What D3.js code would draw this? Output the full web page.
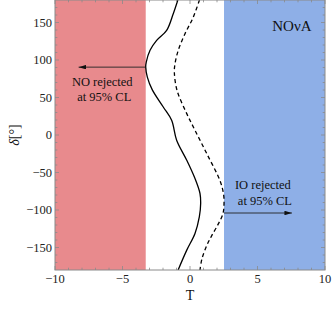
<!DOCTYPE html>
<html><head><meta charset="utf-8">
<script src="https://cdn.jsdelivr.net/npm/d3@7"></script>
<style>body{margin:0;background:#fff}svg{display:block}</style>
</head><body><svg id="c" width="332" height="309" font-family="'Liberation Serif','DejaVu Serif','Times New Roman',serif"></svg>
<script>
// Data
const xTicks = [-10, -5, 0, 5, 10];
const yTicks = [-150, -100, -50, 0, 50, 100, 150];
const deltaSolid = [180,161.7,139.4,126.1,112.9,97.2,90.5,77.2,60.5,37.3,19.6,-7,-33.7,-58.1,-78,-91.3,-109.2,-131.3,-153.5,-180];
const tSolid     = [-0.9,-1.24,-1.73,-2.47,-2.96,-3.24,-3.28,-3.16,-2.8,-1.98,-1.36,-0.99,-0.24,0.37,0.74,0.79,0.69,0.37,-0.24,-0.88];
const deltaDashed = [180,157,135,113,95,84,59.5,28.5,6.3,-24.8,-60.8,-78.2,-91.5,-104.9,-118.2,-134.2,-147.5,-164.8,-180];
const tDashed     = [0.7,0.24,-0.37,-0.87,-1.11,-1.16,-0.96,-0.24,0.37,1.24,2.22,2.48,2.52,2.44,2.11,1.61,1.24,0.89,0.74];
const bands = [{name:"NO", from:-10, to:-3.28, color:"#e88a8d"},{name:"IO", from:2.52, to:10, color:"#8eafe7"}];
const arrows = [{t0:-3.28, t1:-8.25, delta:90.5, lines:["NO rejected","at 95% CL"]},{t0:2.52, t1:7.55, delta:-104, lines:["IO rejected","at 95% CL"]}];
const experiment = "NOνA";

const W=332,H=309, L=55, R=325, T=0, B=270;
const svg = d3.select("#c");
const x = d3.scaleLinear().domain([-10,10]).range([L,R]);
const y = d3.scaleLinear().domain([-180,180]).range([B,T]);
const fmt = v => v<0 ? "\u2212"+Math.abs(v) : ""+v;

svg.append("defs").append("clipPath").attr("id","clip").append("rect").attr("x",L).attr("y",T).attr("width",R-L).attr("height",B-T);
svg.append("defs").append("marker").attr("id","ah").attr("viewBox","0 0 10 6").attr("refX",10).attr("refY",3)
  .attr("markerWidth",8).attr("markerHeight",4.5).attr("markerUnits","userSpaceOnUse").attr("orient","auto")
  .append("path").attr("d","M0,0L10,3L0,6Z").attr("fill","#111");

const g = svg.append("g").attr("clip-path","url(#clip)");
g.selectAll("rect.band").data(bands).enter().append("rect")
  .attr("x",d=>x(d.from)).attr("width",d=>x(d.to)-x(d.from)).attr("y",T).attr("height",B-T).attr("fill",d=>d.color);

const line = d3.line().x(d=>x(d[0])).y(d=>y(d[1])).curve(d3.curveCatmullRom);
g.append("path").datum(tSolid.map((t,i)=>[t,deltaSolid[i]])).attr("d",line).attr("fill","none").attr("stroke","#000").attr("stroke-width",1.3);
g.append("path").datum(tDashed.map((t,i)=>[t,deltaDashed[i]])).attr("d",line).attr("fill","none").attr("stroke","#000").attr("stroke-width",1.3).attr("stroke-dasharray","4,3");

// arrows and labels
arrows.forEach((a,i)=>{
  svg.append("line").attr("x1",x(a.t0)).attr("x2",x(a.t1)).attr("y1",y(a.delta)).attr("y2",y(a.delta))
    .attr("stroke","#222").attr("stroke-width",0.9).attr("marker-end","url(#ah)");
});
const txt = svg.append("g").attr("font-size",12.5).attr("fill","#111").attr("text-anchor","middle");
txt.append("text").attr("x",x(-6.5)).attr("y",y(90.5)+18.5).text(arrows[0].lines[0]);
txt.append("text").attr("x",x(-6.35)).attr("y",y(90.5)+33.5).text(arrows[0].lines[1]);
txt.append("text").attr("x",x(5.4)).attr("y",y(-104)-24).text(arrows[1].lines[0]);
txt.append("text").attr("x",x(5.55)).attr("y",y(-104)-8.5).text(arrows[1].lines[1]);
svg.append("text").attr("x",x(9.0)).attr("y",31).attr("text-anchor","end").attr("font-size",15).attr("fill","#111").text(experiment);

// frame & ticks
const fc="#8a8a8a";
svg.append("rect").attr("x",L).attr("y",T).attr("width",R-L).attr("height",B-T).attr("fill","none").attr("stroke",fc).attr("stroke-width",1);
const tk = svg.append("g").attr("stroke",fc).attr("stroke-width",0.8);
d3.range(-10,10.01,1).forEach(v=>{
  const len = (v%5===0)?4:2.3;
  tk.append("line").attr("x1",x(v)).attr("x2",x(v)).attr("y1",B).attr("y2",B-len);
  tk.append("line").attr("x1",x(v)).attr("x2",x(v)).attr("y1",T).attr("y2",T+len);
});
d3.range(-170,171,10).forEach(v=>{
  const len = (v%50===0)?4:2.3;
  tk.append("line").attr("y1",y(v)).attr("y2",y(v)).attr("x1",L).attr("x2",L+len);
  tk.append("line").attr("y1",y(v)).attr("y2",y(v)).attr("x1",R).attr("x2",R-len);
});
const lab = svg.append("g").attr("font-size",12.5).attr("fill","#222");
lab.selectAll("text.xt").data(xTicks).enter().append("text").attr("text-anchor","middle")
  .attr("x",d=>x(d)).attr("y",283).text(fmt);
lab.selectAll("text.yt").data(yTicks).enter().append("text").attr("text-anchor","end")
  .attr("x",52).attr("y",d=>y(d)+4.3).text(fmt);

svg.append("text").attr("x",x(0)).attr("y",300).attr("text-anchor","middle").attr("font-size",14).attr("fill","#111").text("T");
const yl = svg.append("text").attr("transform","translate(19,135) rotate(-90)").attr("text-anchor","middle").attr("font-size",14).attr("fill","#111");
yl.append("tspan").attr("font-style","italic").text("δ");
yl.append("tspan").text("[°]");
</script></body></html>
